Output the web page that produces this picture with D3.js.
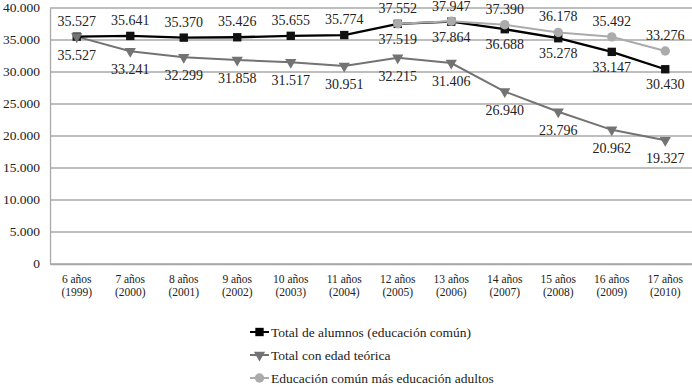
<!DOCTYPE html>
<html>
<head>
<meta charset="utf-8">
<script src="https://cdn.jsdelivr.net/npm/d3@7"></script>
<style>
  body { margin: 0; background: #fff; }
</style>
</head>
<body>
<svg id="chart"></svg>
<script>
const edades = ["6 años", "7 años", "8 años", "9 años", "10 años", "11 años",
  "12 años", "13 años", "14 años", "15 años", "16 años", "17 años"];
const anios = ["(1999)", "(2000)", "(2001)", "(2002)", "(2003)", "(2004)",
  "(2005)", "(2006)", "(2007)", "(2008)", "(2009)", "(2010)"];

const totalAlumnos = [35527, 35641, 35370, 35426, 35655, 35774, 37519, 37864, 36688, 35278, 33147, 30430];
const edadTeorica = [35527, 33241, 32299, 31858, 31517, 30951, 32215, 31406, 26940, 23796, 20962, 19327];
const masAdultos = [null, null, null, null, null, null, 37552, 37947, 37390, 36178, 35492, 33276];

const yTicks = [0, 5000, 10000, 15000, 20000, 25000, 30000, 35000, 40000];

const w = 692;
const h = 388;
const pLeft = 50;
const pRight = 692;
const pTop = 8;
const pBottom = 264;
const serif = "'Liberation Serif', 'DejaVu Serif', serif";

const fmt = (v) => d3.format(",")(v).replace(/,/g, ".");

const svg = d3.select("#chart")
  .attr("width", w)
  .attr("height", h)
  .attr("font-family", serif);

const xScale = d3.scaleBand()
  .domain(edades)
  .range([pLeft, pRight]);

const yScale = d3.scaleLinear()
  .domain([0, 40000])
  .range([pBottom, pTop]);

const cx = (i) => xScale(edades[i]) + xScale.bandwidth() / 2;

// gridlines
svg.append("g")
  .selectAll("line")
  .data(yTicks)
  .enter()
  .append("line")
  .attr("x1", pLeft)
  .attr("x2", pRight)
  .attr("y1", (d) => yScale(d))
  .attr("y2", (d) => yScale(d))
  .attr("stroke", "#a8a8a8")
  .attr("stroke-width", 1.3);

// y axis
const yAxis = d3.axisLeft(yScale)
  .tickValues(yTicks)
  .tickFormat(fmt)
  .tickSize(0);
const gy = svg.append("g")
  .attr("transform", "translate(" + pLeft + ",0)")
  .call(yAxis)
  .attr("font-family", serif)
  .attr("font-size", 13.5);
gy.select(".domain").attr("stroke", "#a8a8a8").attr("stroke-width", 1.3);
gy.selectAll(".tick text")
  .attr("x", -10)
  .attr("dy", "0.25em")
  .attr("fill", "#222");

// x axis
const xAxis = d3.axisBottom(xScale).tickSize(0).tickFormat("");
const gx = svg.append("g")
  .attr("transform", "translate(0," + pBottom + ")")
  .call(xAxis)
  .attr("font-family", serif)
  .attr("font-size", 11.5);
gx.select(".domain").attr("stroke", "#a8a8a8").attr("stroke-width", 1.3);

const xl = gx.selectAll(".tick")
  .append("text")
  .attr("text-anchor", "middle")
  .attr("fill", "#222");
xl.append("tspan").attr("x", 0).attr("y", 19).text((d, i) => edades[i]);
xl.append("tspan").attr("x", 0).attr("y", 32).text((d, i) => anios[i]);

const line = d3.line()
  .defined((d) => d != null)
  .x((d, i) => cx(i))
  .y((d) => yScale(d));

const tri = d3.symbol().type(d3.symbolTriangle).size(55);
const sq = d3.symbol().type(d3.symbolSquare).size(70);
const circ = d3.symbol().type(d3.symbolCircle).size(70);

// series: triangle
svg.append("path")
  .datum(edadTeorica)
  .attr("d", line)
  .attr("fill", "none")
  .attr("stroke", "#737373")
  .attr("stroke-width", 2);

// series: black
svg.append("path")
  .datum(totalAlumnos)
  .attr("d", line)
  .attr("fill", "none")
  .attr("stroke", "#000")
  .attr("stroke-width", 2.3);

svg.append("g")
  .selectAll("path")
  .data(totalAlumnos)
  .enter()
  .append("path")
  .attr("d", sq)
  .attr("transform", (d, i) => "translate(" + cx(i) + "," + yScale(d) + ")")
  .attr("fill", "#111");

svg.append("g")
  .selectAll("path")
  .data(edadTeorica)
  .enter()
  .append("path")
  .attr("d", tri)
  .attr("transform", (d, i) => "translate(" + cx(i) + "," + yScale(d) + ") rotate(180)")
  .attr("fill", "#737373");

// series: light grey
svg.append("path")
  .datum(masAdultos)
  .attr("d", line)
  .attr("fill", "none")
  .attr("stroke", "#ababab")
  .attr("stroke-width", 2);

svg.append("g")
  .selectAll("path")
  .data(masAdultos.map((d, i) => ({ d, i })).filter((p) => p.d != null))
  .enter()
  .append("path")
  .attr("d", circ)
  .attr("transform", (p) => "translate(" + cx(p.i) + "," + yScale(p.d) + ")")
  .attr("fill", "#ababab");

// data labels
const labels = svg.append("g")
  .attr("font-size", 14)
  .attr("fill", "#222")
  .attr("text-anchor", "middle");

totalAlumnos.forEach((d, i) => {
  const above = i < 6;
  labels.append("text")
    .attr("x", cx(i))
    .attr("y", yScale(d) + (above ? -11 : 20))
    .text(fmt(d));
});

edadTeorica.forEach((d, i) => {
  labels.append("text")
    .attr("x", cx(i))
    .attr("y", yScale(d) + 23)
    .text(fmt(d));
});

masAdultos.forEach((d, i) => {
  if (d == null) return;
  labels.append("text")
    .attr("x", cx(i))
    .attr("y", Math.max(yScale(d) - 11, 11))
    .text(fmt(d));
});

// legend
const legendItems = [
  { name: "Total de alumnos (educación común)", color: "#000", sym: sq, rot: 0 },
  { name: "Total con edad teórica", color: "#737373", sym: tri, rot: 180 },
  { name: "Educación común más educación adultos", color: "#ababab", sym: circ, rot: 0 }
];

const lg = svg.append("g")
  .attr("font-size", 13.5)
  .attr("fill", "#222")
  .selectAll("g")
  .data(legendItems)
  .enter()
  .append("g")
  .attr("transform", (d, i) => "translate(250," + (332 + i * 23) + ")");

lg.append("line")
  .attr("x1", 0).attr("x2", 19)
  .attr("stroke", (d) => d.color)
  .attr("stroke-width", 2);
lg.append("path")
  .attr("d", (d) => d.sym())
  .attr("transform", (d) => "translate(9.5,0) rotate(" + d.rot + ")")
  .attr("fill", (d) => d.color);
lg.append("text")
  .attr("x", 21)
  .attr("y", 4.5)
  .text((d) => d.name);
</script>
</body>
</html>
